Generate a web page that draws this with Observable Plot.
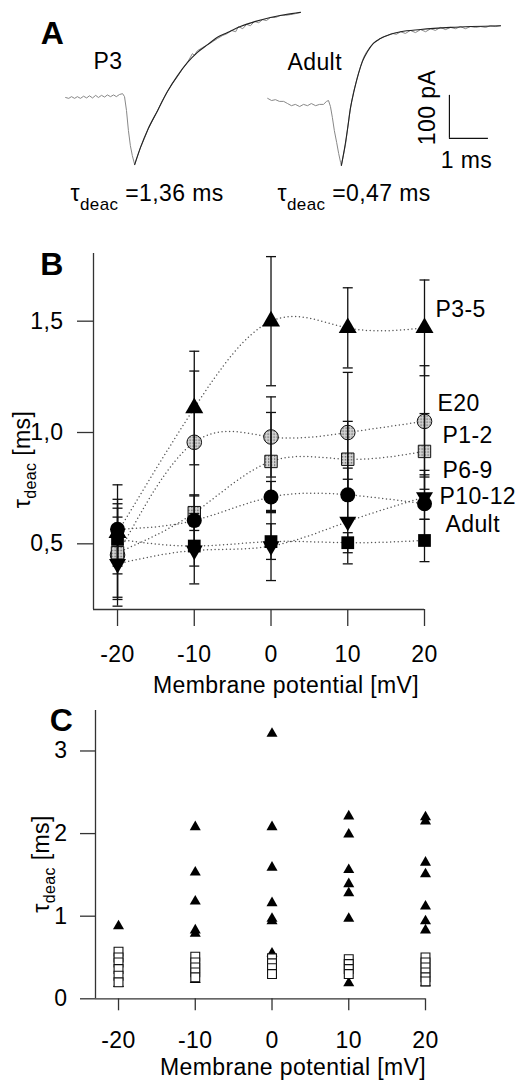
<!DOCTYPE html>
<html>
<head>
<meta charset="utf-8">
<script src="https://cdn.jsdelivr.net/npm/d3@7"></script>
<script src="https://cdn.jsdelivr.net/npm/@observablehq/plot@0.6"></script>
<style>
  html, body { margin: 0; padding: 0; background: #fff; }
  #fig { position: relative; width: 516px; height: 1081px; overflow: hidden; background: #fff; }
  .panel { position: absolute; left: 0; width: 516px; }
  .panel svg { display: block; }
</style>
</head>
<body>
<div id="fig">
  <div class="panel" id="panelA" style="top:0px"></div>
  <div class="panel" id="panelB" style="top:220px"></div>
  <div class="panel" id="panelC" style="top:700px"></div>
</div>
<script>
// ================= DATA =================
// Panel A: example current traces (time in ms, current in pA)
const p3RawTime = [1.67,1.75,1.82,1.90,1.97,2.05,2.13,2.21,2.28,2.36,2.44,2.51,2.59,2.67,2.74,2.82,2.90,2.97,3.05,3.13,
  3.18,3.23,3.28,3.33,3.38,3.44,
  3.51,3.59,3.69,3.79,3.90,4.03,4.15,4.28,4.41,4.54,4.67,4.79,4.92,4.97,5.05,5.18,5.31,5.44,5.56,5.69,5.82,5.92,6.03,6.10,6.21,6.31,6.41,6.51,6.62,6.72,6.82,6.92,7.05,7.18,7.31,7.44,7.56,7.69];
const p3RawCurrent = [0,-2,2,-2,2,-2,3,-1,4,-1,5,0,5,1,6,2,6,2,7,9,
  2,-30,-77,-112,-135,-156,
  -137,-116,-95,-72,-53,-30,-7,14,33,49,67,81,102,98,109,116,123,130,137,144,149,156,153,165,160,170,167,177,174,181,179,186,186,191,191,193,195,198];
const p3FitTime = [3.44,3.59,3.79,4.03,4.28,4.54,4.79,5.05,5.31,5.56,5.82,6.15,6.54,6.92,7.31,7.69];
const p3FitCurrent = [-156,-116,-72,-30,14,51,81,105,123,140,151,165,177,186,193,198];

const adultRawTime = [6.85,6.95,7.05,7.15,7.26,7.36,7.46,7.56,7.67,7.77,7.87,7.97,8.08,8.18,8.28,8.36,8.41,8.46,
  8.51,8.56,8.62,8.67,8.72,8.74,8.79,8.85,8.90,8.97,9.05,9.15,9.23,9.31,9.38,9.49,9.56,9.67,9.79,9.92,
  10.05,10.15,10.26,10.38,10.51,10.64,10.77,10.90,11.03,11.15,11.28,11.41,11.54,11.67,11.79,11.92,12.05,12.18,12.31,12.44,12.56,12.69,12.82];
const adultRawCurrent = [-2,-7,-5,-9,-9,-14,-19,-16,-21,-16,-19,-14,-19,-16,-16,-9,-7,-21,
  -47,-77,-105,-130,-151,-158,-135,-107,-72,-26,12,47,72,93,105,119,126,133,140,144,
  149,147,153,149,156,151,158,153,160,156,163,158,163,160,165,160,165,163,165,163,167,165,167];
const adultFitTime = [8.74,8.82,8.90,8.97,9.08,9.18,9.28,9.41,9.56,9.74,10.00,10.26,10.77,11.54,12.82];
const adultFitCurrent = [-158,-119,-72,-26,21,56,84,107,126,137,147,153,158,163,167];

const traceLabels = ["P3", "Adult"];
const tauLabels = ["τ_{deac} =1,36 ms", "τ_{deac} =0,47 ms"];
const scaleBarTime = 1;      // ms
const scaleBarCurrent = 100; // pA

// Panel B: mean tau_deac (ms) and error per age group
const potentials = [-20, -10, 0, 10, 20];
const groups = ["P3-5", "E20", "P1-2", "P6-9", "P10-12", "Adult"];
const tauP35   = [0.55, 1.11, 1.50, 1.47, 1.47];
const semP35   = [0.15, 0.255, 0.29, 0.18, 0.215];
const tauE20   = [0.45, 0.956, 0.98, 1.00, 1.05];
const semE20   = [0.23, 0.32, 0.18, 0.27, 0.25];
const tauP12   = [0.46, 0.64, 0.87, 0.88, 0.915];
const semP12   = [0.20, 0.08, 0.22, 0.17, 0.17];
const tauP69   = [0.565, 0.605, 0.71, 0.72, 0.68];
const semP69   = [0.20, 0.11, 0.07, 0.12, 0.15];
const tauP1012 = [0.41, 0.47, 0.49, 0.60, 0.71];
const semP1012 = [0.16, 0.15, 0.155, 0.19, 0.10];
const tauAdult = [0.52, 0.49, 0.51, 0.505, 0.515];
const semAdult = [0.10, 0.09, 0.08, 0.045, 0.095];
const seriesLabelTau = [1.553, 1.128, 0.984, 0.829, 0.712, 0.586];
const yTicksB = [0.5, 1.0, 1.5];

// Panel C: individual cells (ms), P3-5 (triangles) and adult (open squares)
const p35CellsM20 = [0.88, 0.18];
const p35CellsM10 = [2.08, 1.53, 1.18, 0.83, 0.79, 0.23];
const p35Cells0   = [3.21, 2.08, 1.59, 1.16, 0.97, 0.94, 0.55];
const p35Cells10  = [2.21, 1.99, 1.56, 1.39, 1.28, 0.97, 0.19];
const p35Cells20  = [2.20, 2.15, 1.65, 1.51, 1.12, 0.94, 0.83, 0.19];
const adultCellsM20 = [0.57, 0.50, 0.44, 0.36, 0.28, 0.20];
const adultCellsM10 = [0.51, 0.44, 0.38, 0.32, 0.26];
const adultCells0   = [0.49, 0.43, 0.37, 0.30];
const adultCells10  = [0.48, 0.42, 0.36, 0.30];
const adultCells20  = [0.50, 0.44, 0.38, 0.32, 0.26, 0.21];
const yTicksC = [0, 1, 2, 3];

const xLabel = "Membrane potential [mV]";
const yLabel = "τ_{deac} [ms]";

// ================= HELPERS =================
const FONT = "'Liberation Sans', Arial, Helvetica, sans-serif";
const W = 516;
const baseStyle = {fontFamily: FONT, fontSize: "23px", background: "none", overflow: "visible", color: "#000", letterSpacing: "0.4px"};
const at = (px, py, ml, mt) => ({frameAnchor: "top-left", lineAnchor: "middle", dx: px - ml, dy: py - mt});
const ident = d => d;
const commaFmt = d => d.toFixed(1).replace(".", ",");
const plainFmt = d => String(d);

const triDown = {draw(ctx, size) {
  const h = Math.sqrt(size / (3 * Math.sqrt(3)));
  ctx.moveTo(0, 2 * h); ctx.lineTo(-Math.sqrt(3) * h, -h); ctx.lineTo(Math.sqrt(3) * h, -h); ctx.closePath();
}};
const capSym = {draw(ctx, size) {
  const w = Math.sqrt(size / Math.PI);
  ctx.moveTo(-w, 0); ctx.lineTo(w, 0);
}};

function subscripts(svg, subSize, shift) {
  d3.select(svg).selectAll("text").each(function() {
    const m = /^(.*)_\{(.*)\}(.*)$/.exec(this.textContent);
    if (!m) return;
    const t = d3.select(this);
    t.text(null);
    t.append("tspan").text(m[1]);
    t.append("tspan").attr("font-size", subSize).attr("dy", shift).text(m[2]);
    t.append("tspan").attr("dy", -shift).text(m[3]);
  });
}

// ================= PANEL A =================
const plotA = Plot.plot({
  width: W, height: 220, margin: 0,
  x: {domain: [0, 13.23], axis: null},
  y: {domain: [-286, 225.6], axis: null},
  style: baseStyle,
  marks: [
    Plot.line(d3.zip(p3RawTime, p3RawCurrent), {stroke: "#888", strokeWidth: 1}),
    Plot.line(d3.zip(p3FitTime, p3FitCurrent), {stroke: "#222", strokeWidth: 1.1, curve: "monotone-x"}),
    Plot.line(d3.zip(adultRawTime, adultRawCurrent), {stroke: "#888", strokeWidth: 1}),
    Plot.line(d3.zip(adultFitTime, adultFitCurrent), {stroke: "#222", strokeWidth: 1.1, curve: "monotone-x"}),
    Plot.ruleX([11.51], {y1: -95, y2: -95 + scaleBarCurrent, stroke: "#111", strokeWidth: 1.2}),
    Plot.ruleY([-95], {x1: 11.51, x2: 11.51 + scaleBarTime, stroke: "#111", strokeWidth: 1.2}),
    Plot.text(["A"], {...at(52, 33, 0, 0), text: ident, fontSize: 32, fontWeight: "bold", textAnchor: "middle"}),
    Plot.text([traceLabels[0]], {...at(93, 61, 0, 0), text: ident, textAnchor: "start"}),
    Plot.text([traceLabels[1]], {...at(287, 62, 0, 0), text: ident, textAnchor: "start"}),
    Plot.text([`${scaleBarCurrent} pA`], {...at(427, 107, 0, 0), text: ident, rotate: -90, textAnchor: "middle"}),
    Plot.text([`${scaleBarTime} ms`], {...at(466, 160, 0, 0), text: ident, textAnchor: "middle"}),
    Plot.text([tauLabels[0]], {...at(70, 193, 0, 0), text: ident, textAnchor: "start"}),
    Plot.text([tauLabels[1]], {...at(277, 193, 0, 0), text: ident, textAnchor: "start"})
  ]
});
document.getElementById("panelA").append(plotA);
subscripts(plotA, 17, 9);

// ================= PANEL B =================
const tauB = {"P3-5": tauP35, "E20": tauE20, "P1-2": tauP12, "P6-9": tauP69, "P10-12": tauP1012, "Adult": tauAdult};
const semB = {"P3-5": semP35, "E20": semE20, "P1-2": semP12, "P6-9": semP69, "P10-12": semP1012, "Adult": semAdult};
const rowsB = groups.flatMap(g => potentials.map((v, i) => ({group: g, v, tau: tauB[g][i], sem: semB[g][i]})));
const sel = g => rowsB.filter(d => d.group === g);
const bMl = 93, bMr = 92, bMt = 33, bMb = 91;
const bXmin = -23.13, bYmin = 0.205, bYmax = 1.804;
const labelDx = [11, 13, 18, 18, 15, 21];

const plotB = Plot.plot({
  width: W, height: 480,
  marginLeft: bMl, marginRight: bMr, marginTop: bMt, marginBottom: bMb,
  x: {domain: [bXmin, 20], label: null},
  y: {domain: [bYmin, bYmax], label: null},
  style: baseStyle,
  marks: [
    Plot.ruleX([bXmin], {stroke: "#333", strokeWidth: 1.3}),
    Plot.ruleY([bYmin], {stroke: "#333", strokeWidth: 1.3}),
    Plot.axisY({ticks: yTicksB, tickSize: 16, tickPadding: 14, tickFormat: commaFmt, fontSize: 23, label: null, stroke: "#333", strokeWidth: 1.3}),
    Plot.axisX({ticks: potentials, tickSize: 17, tickPadding: 19, tickFormat: plainFmt, fontSize: 23, label: null, stroke: "#333", strokeWidth: 1.3}),
    Plot.line(rowsB, {x: "v", y: "tau", z: "group", curve: "natural", stroke: "#555", strokeWidth: 1.5, strokeDasharray: "0 3.8", strokeLinecap: "round"}),
    Plot.dot(sel("E20"), {x: "v", y: "tau", symbol: "circle", r: 7.3, fill: "url(#stipple)", stroke: "#111", strokeWidth: 1}),
    Plot.dot(sel("P1-2"), {x: "v", y: "tau", symbol: "square", r: 7, fill: "url(#stipple)", stroke: "#111", strokeWidth: 1}),
    Plot.ruleX(rowsB, {x: "v", y1: d => d.tau - d.sem, y2: d => d.tau + d.sem, stroke: "#111", strokeWidth: 1.3}),
    Plot.dot(rowsB, {x: "v", y: d => d.tau + d.sem, symbol: capSym, r: 5, fill: "none", stroke: "#111", strokeWidth: 1.3}),
    Plot.dot(rowsB, {x: "v", y: d => d.tau - d.sem, symbol: capSym, r: 5, fill: "none", stroke: "#111", strokeWidth: 1.3}),
    Plot.dot(sel("P3-5"), {x: "v", y: "tau", symbol: "triangle", r: 6.7, fill: "#000"}),
    Plot.dot(sel("Adult"), {x: "v", y: "tau", symbol: "square", r: 7.2, fill: "#000"}),
    Plot.dot(sel("P10-12"), {x: "v", y: "tau", symbol: triDown, r: 6.3, fill: "#000"}),
    Plot.dot(sel("P6-9"), {x: "v", y: "tau", symbol: "circle", r: 7.5, fill: "#000"}),
    ...groups.map((g, i) => Plot.text([{name: g, tau: seriesLabelTau[i]}], {
      x: () => potentials[potentials.length - 1], y: "tau", text: "name", dx: labelDx[i], textAnchor: "start", lineAnchor: "middle"})),
    Plot.text([yLabel], {...at(22, 239, bMl, bMt), text: ident, rotate: -90, textAnchor: "middle"}),
    Plot.text([xLabel], {...at(285.5, 465, bMl, bMt), text: ident, textAnchor: "middle"}),
    Plot.text(["B"], {...at(51.5, 44, bMl, bMt), text: ident, fontSize: 32, fontWeight: "bold", textAnchor: "middle"})
  ]
});
{
  const defs = d3.select(plotB).insert("defs", ":first-child");
  const p = defs.append("pattern").attr("id", "stipple").attr("patternUnits", "userSpaceOnUse").attr("width", 3).attr("height", 3);
  p.append("rect").attr("width", 3).attr("height", 3).attr("fill", "#d6d6d6");
  p.append("rect").attr("width", 1.3).attr("height", 1.3).attr("fill", "#4a4a4a");
}
document.getElementById("panelB").append(plotB);
subscripts(plotB, 16, 6);

// ================= PANEL C =================
const p35Cells = [p35CellsM20, p35CellsM10, p35Cells0, p35Cells10, p35Cells20];
const adultCells = [adultCellsM20, adultCellsM10, adultCells0, adultCells10, adultCells20];
const rowsCtri = potentials.flatMap((v, i) => p35Cells[i].map(tau => ({v, tau})));
const rowsCsq = potentials.flatMap((v, i) => adultCells[i].map(tau => ({v, tau})));
const cMl = 95, cMr = 91, cMt = 10, cMb = 82.7;
const cXmin = -23.0, cYmax = 3.49;

const plotC = Plot.plot({
  width: W, height: 381,
  marginLeft: cMl, marginRight: cMr, marginTop: cMt, marginBottom: cMb,
  x: {domain: [cXmin, 20], label: null},
  y: {domain: [0, cYmax], label: null},
  style: baseStyle,
  marks: [
    Plot.ruleX([cXmin], {stroke: "#333", strokeWidth: 1.3}),
    Plot.ruleY([0], {stroke: "#333", strokeWidth: 1.3}),
    Plot.axisY({ticks: yTicksC, tickSize: 15, tickPadding: 13, tickFormat: plainFmt, fontSize: 23, label: null, stroke: "#333", strokeWidth: 1.3}),
    Plot.axisX({ticks: potentials, tickSize: 12, tickPadding: 21, tickFormat: plainFmt, fontSize: 23, label: null, stroke: "#333", strokeWidth: 1.3}),
    Plot.dot(rowsCtri, {x: "v", y: "tau", symbol: "triangle", r: 4.1, fill: "#000"}),
    Plot.dot(rowsCsq, {x: "v", y: "tau", symbol: "square", r: 5, fill: "#fff", stroke: "#111", strokeWidth: 1.1}),
    Plot.text([yLabel], {...at(41, 163.5, cMl, cMt), text: ident, rotate: -90, textAnchor: "middle"}),
    Plot.text([xLabel], {...at(292.5, 367, cMl, cMt), text: ident, textAnchor: "middle"}),
    Plot.text(["C"], {...at(61, 20, cMl, cMt), text: ident, fontSize: 32, fontWeight: "bold", textAnchor: "middle"})
  ]
});
document.getElementById("panelC").append(plotC);
subscripts(plotC, 16, 6);
</script>
</body>
</html>
